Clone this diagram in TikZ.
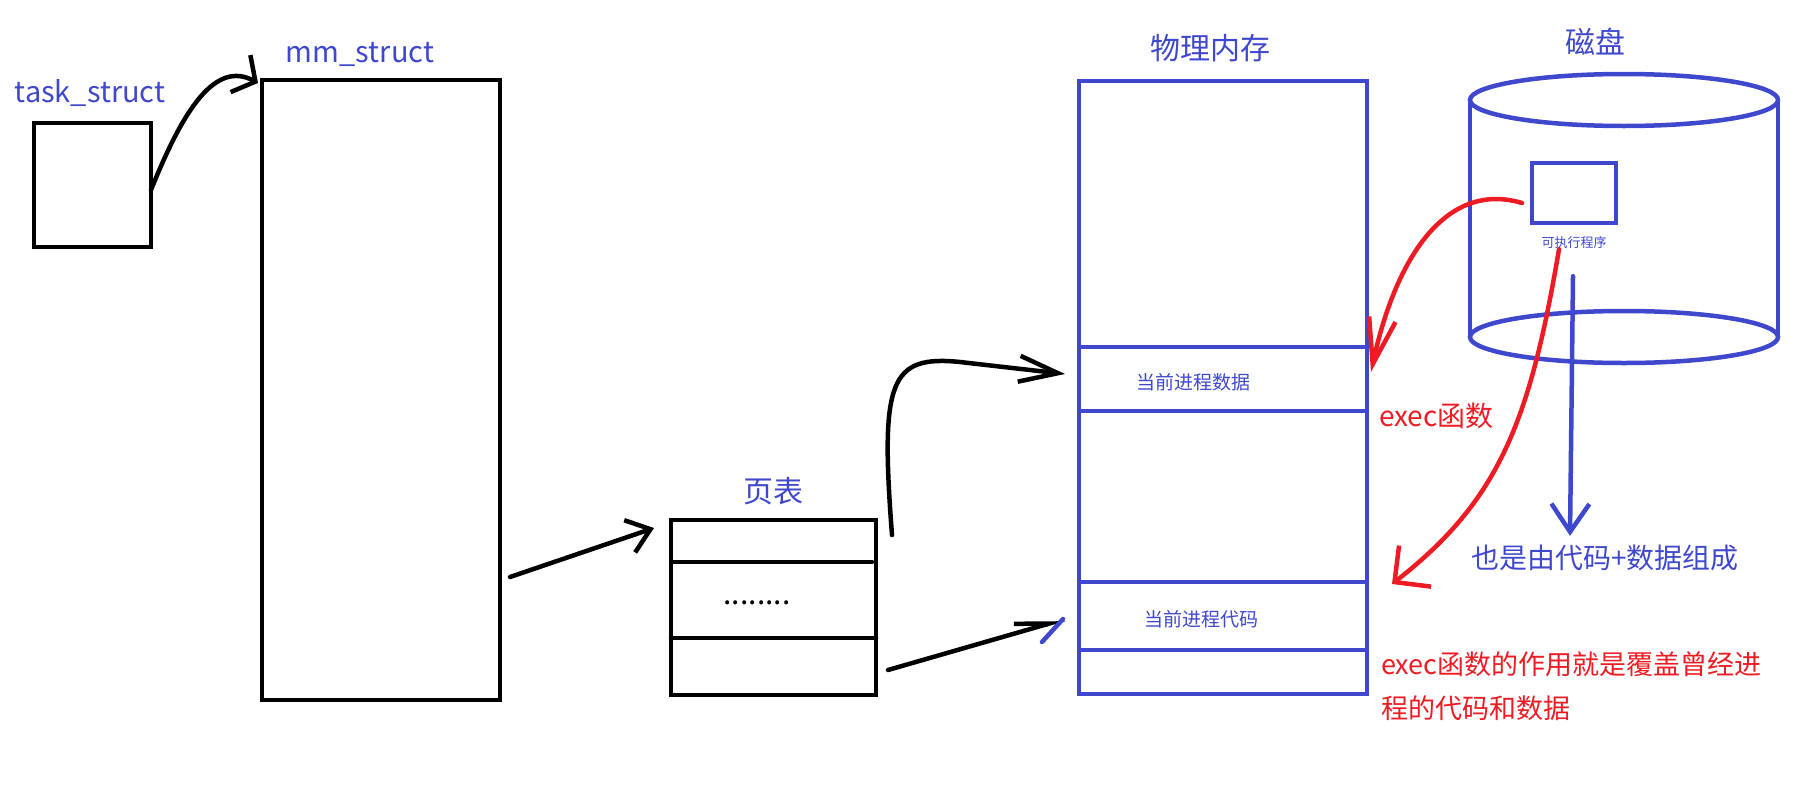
\documentclass[tikz,border=0pt]{standalone}
\usepackage{fontspec}
\setmainfont{Noto Sans CJK SC}
\usepackage{tikz}
\usetikzlibrary{positioning}
\usetikzlibrary{arrows.meta}
\definecolor{inkblue}{RGB}{63,72,204}
\definecolor{inkred}{RGB}{237,28,36}
\tikzstyle{box} = [rectangle, draw, line width=4.5pt, inner sep=0pt, outer sep=0pt]
\tikzstyle{memrow} = [box, draw=inkblue, minimum width=288pt]
\tikzstyle{line} = [draw, line width=4.5pt, line cap=round, line join=round]
\tikzstyle{blbl} = [text=inkblue, inner sep=0pt, font=\fontsize{30pt}{32pt}\selectfont]
\tikzstyle{rlbl} = [text=inkred, inner sep=0pt, font=\fontsize{28pt}{30pt}\selectfont]
\tikzstyle{rowtext} = [text=inkblue, inner sep=0pt, font=\fontsize{19pt}{21pt}\selectfont]

\begin{document}
\begin{tikzpicture}[x=1pt, y=-1pt]
  \useasboundingbox (0,0) rectangle (1801,811);
  % task_struct -> mm_struct -> page table
  \node [box, minimum width=117pt, minimum height=124pt] (task) at (92.5,185) {};
  \node [blbl, anchor=base, font=\fontsize{29pt}{31pt}\selectfont] (tasklbl) at (90,102) {task\_struct};
  \node [box, minimum width=238pt, minimum height=620pt] (mm) at (381,390) {};
  \node [blbl, anchor=base, font=\fontsize{29pt}{31pt}\selectfont] (mmlbl) at (360,62) {mm\_struct};
  \node [box, minimum width=205pt, minimum height=175pt] (pt) at (773.5,607.5) {};
  \node [blbl] (ptlbl) at (773,491) {页表};
  \draw [line] ([xshift=2pt,yshift=-42pt]pt.north west) -- ([xshift=-4pt,yshift=-42pt]pt.north east);
  \draw [line] ([yshift=-118pt]pt.north west) -- ([yshift=-118pt]pt.north east);
  \node [anchor=base, inner sep=0pt, font=\fontsize{30pt}{30pt}\selectfont] (dots) at (757,604) {........};

  % physical memory
  \node [memrow, minimum height=613pt] (mem) at (1223,387.5) {};
  \node [memrow, minimum height=64pt] (memdata) at (1223,379) {};
  \node [memrow, minimum height=68pt] (memcode) at (1223,616) {};
  \node [blbl] (memlbl) at (1210,48) {物理内存};
  \node [rowtext] (datatxt) at (1193,382) {当前进程数据};
  \node [rowtext] (codetxt) at (1201,619) {当前进程代码};

  % disk
  \draw [inkblue, line width=4.5pt] (1624,100) ellipse [x radius=154pt, y radius=26pt];
  \draw [inkblue, line width=4.5pt] (1624,337) ellipse [x radius=154pt, y radius=26pt];
  \draw [inkblue, line width=4.5pt] (1470,100) -- (1470,337);
  \draw [inkblue, line width=4.5pt] (1778,100) -- (1778,337);
  \node [blbl] (disklbl) at (1595,42) {磁盘};
  \node [box, draw=inkblue, minimum width=84pt, minimum height=60pt] (exe) at (1574,193) {};
  \node [rowtext, font=\fontsize{13pt}{15pt}\selectfont] (exelbl) at (1574,243) {可执行程序};
  \node [blbl, font=\fontsize{28pt}{30pt}\selectfont] (alsolbl) at (1605,558) {也是由代码+数据组成};

  % red notes
  \node [rlbl, anchor=west] (execlbl) at (1379,416) {exec函数};
  \node [rlbl, anchor=west, align=left, font=\fontsize{27pt}{44pt}\selectfont] (execnote) at (1381,686) {exec函数的作用就是覆盖曾经进\\程的代码和数据};

  % connectors
  \draw [line, -{Straight Barb[length=17pt,width=42pt]}] ([yshift=-5pt]task.east) .. controls +(32,-80) and +(-43,-23) .. ([xshift=-4pt,yshift=-3pt]mm.north west);
  \draw [line, -{Straight Barb[length=22pt,width=34pt]}] ([xshift=10pt,yshift=-187pt]mm.east) -- ([xshift=-17pt,yshift=-8pt]pt.north west);
  \draw [line, -{Straight Barb[length=39pt,width=26pt]}] ([xshift=16pt,yshift=-15pt]pt.north east) .. controls (880,380) and (890,355) .. (960,362) -- ([xshift=-14pt,yshift=5pt]memdata.west);
  \draw [line, -{Straight Barb[harpoon,length=34pt,width=19pt]}] ([xshift=12pt,yshift=25pt]pt.south east) -- ([xshift=-14pt,yshift=-3pt]memcode.west);
  \draw [line, inkblue] ([xshift=-37pt,yshift=-26pt]memcode.west) -- ([xshift=-16pt,yshift=-3pt]memcode.west);
  \draw [line, inkred, -{Straight Barb[length=46pt,width=27pt]}] ([xshift=-10pt,yshift=-10pt]exe.west) .. controls (1445,180) and (1395,260) .. ([xshift=4pt,yshift=7pt]memdata.east);
  \draw [line, inkred, -{Straight Barb[length=26pt,width=52pt]}] ([xshift=-15pt]exelbl.south) .. controls (1530,420) and (1500,500) .. ([xshift=25pt,yshift=32pt]memcode.east);
  \draw [line, inkblue, -{Straight Barb[length=28pt,width=38pt]}] ([xshift=-1pt,yshift=-27pt]exelbl.south) -- ([xshift=-35pt,yshift=9pt]alsolbl.north);
\end{tikzpicture}
\end{document}
